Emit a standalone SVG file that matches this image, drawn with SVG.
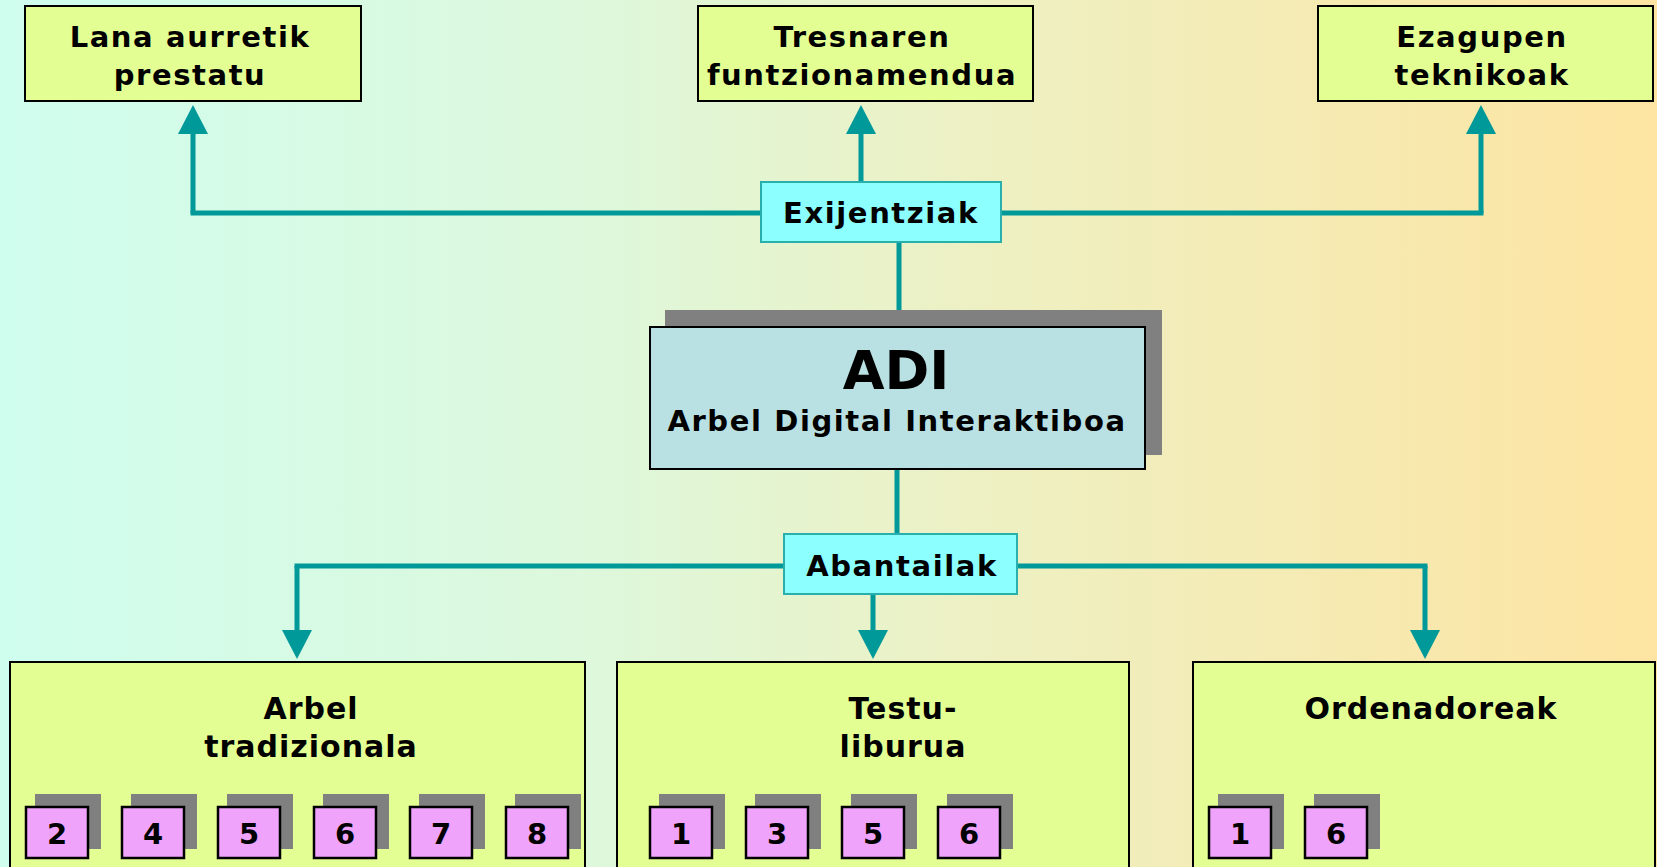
<svg xmlns="http://www.w3.org/2000/svg" width="1657" height="867" viewBox="0 0 1657 867">
<defs>
<linearGradient id="bg" x1="0" y1="0" x2="1" y2="0">
<stop offset="0" stop-color="#CFFDEE"/>
<stop offset="0.35" stop-color="#DDF8DC"/>
<stop offset="0.6" stop-color="#EEF0C2"/>
<stop offset="1" stop-color="#FDE4A2"/>
</linearGradient>
<marker id="ah" viewBox="0 -15 29 30" markerWidth="29" markerHeight="30" refX="1" refY="0" orient="auto" markerUnits="userSpaceOnUse">
<path d="M0,-15 L29,0 L0,15 Z" fill="#009999"/>
</marker>
<style>
.lbl{font-family:"DejaVu Sans","Verdana",sans-serif;font-weight:bold;fill:#000;text-anchor:middle}
.top{font-size:29px;letter-spacing:1.6px}
.cy{font-size:29px;letter-spacing:1.6px}
.bot{font-size:30px;letter-spacing:1px}
.num{font-size:29px}
.ybox{fill:#E3FE93;stroke:#000;stroke-width:2}
.cbox{fill:#8CFFFF;stroke:#2AAFAF;stroke-width:2}
.shadow{fill:#808080}
.sq{fill:#EFA3FB;stroke:#000;stroke-width:2.5}
.conn{fill:none;stroke:#009999;stroke-width:5}
</style>
</defs>
<rect x="0" y="0" width="1657" height="867" fill="url(#bg)"/>

<g id="connectors">
<path class="conn" d="M190.5,213 H1483.5"/>
<path class="conn" d="M193,213 V133" marker-end="url(#ah)"/>
<path class="conn" d="M861,182 V133" marker-end="url(#ah)"/>
<path class="conn" d="M1481,213 V133" marker-end="url(#ah)"/>
<path class="conn" d="M899,242 V326"/>
<path class="conn" d="M897,469 V533"/>
<path class="conn" d="M294.5,566 H1427.5"/>
<path class="conn" d="M297,566 V631" marker-end="url(#ah)"/>
<path class="conn" d="M873,594 V631" marker-end="url(#ah)"/>
<path class="conn" d="M1425,566 V631" marker-end="url(#ah)"/>
</g>

<g id="lana">
<rect class="ybox" x="25" y="6" width="336" height="95"/>
<text class="lbl top" x="190" y="47">Lana aurretik</text>
<text class="lbl top" x="190" y="85">prestatu</text>
</g>
<g id="tresnaren">
<rect class="ybox" x="698" y="6" width="335" height="95"/>
<text class="lbl top" x="862" y="47">Tresnaren</text>
<text class="lbl top" x="862" y="85">funtzionamendua</text>
</g>
<g id="ezagupen">
<rect class="ybox" x="1318" y="6" width="335" height="95"/>
<text class="lbl top" x="1482" y="47">Ezagupen</text>
<text class="lbl top" x="1482" y="85">teknikoak</text>
</g>

<g id="exijentziak">
<rect class="cbox" x="761" y="182" width="240" height="60"/>
<text class="lbl cy" x="881" y="223">Exijentziak</text>
</g>

<g id="adi">
<rect class="shadow" x="665" y="310" width="497" height="145"/>
<rect x="650" y="327" width="495" height="142" fill="#B9E0E2" stroke="#000" stroke-width="2"/>
<text class="lbl" x="896" y="389" font-size="54">ADI</text>
<text class="lbl" x="897" y="431" font-size="29" letter-spacing="1.6">Arbel Digital Interaktiboa</text>
</g>

<g id="abantailak">
<rect class="cbox" x="784" y="534" width="233" height="60"/>
<text class="lbl cy" x="902" y="576">Abantailak</text>
</g>

<g id="arbel">
<rect class="ybox" x="10" y="662" width="575" height="240"/>
<text class="lbl bot" x="311" y="719">Arbel</text>
<text class="lbl bot" x="311" y="757">tradizionala</text>
</g>
<g id="testu">
<rect class="ybox" x="617" y="662" width="512" height="240"/>
<text class="lbl bot" x="903" y="719">Testu-</text>
<text class="lbl bot" x="903" y="757">liburua</text>
</g>
<g id="ordenadoreak">
<rect class="ybox" x="1193" y="662" width="462" height="240"/>
<text class="lbl bot" x="1431" y="719">Ordenadoreak</text>
</g>

<g id="arbel-nums">
<g id="a2"><rect class="shadow" x="35" y="794" width="66" height="55"/><rect class="sq" x="26" y="807" width="62" height="51"/><text class="lbl num" x="57" y="844">2</text></g>
<g id="a4"><rect class="shadow" x="131" y="794" width="66" height="55"/><rect class="sq" x="122" y="807" width="62" height="51"/><text class="lbl num" x="153" y="844">4</text></g>
<g id="a5"><rect class="shadow" x="227" y="794" width="66" height="55"/><rect class="sq" x="218" y="807" width="62" height="51"/><text class="lbl num" x="249" y="844">5</text></g>
<g id="a6"><rect class="shadow" x="323" y="794" width="66" height="55"/><rect class="sq" x="314" y="807" width="62" height="51"/><text class="lbl num" x="345" y="844">6</text></g>
<g id="a7"><rect class="shadow" x="419" y="794" width="66" height="55"/><rect class="sq" x="410" y="807" width="62" height="51"/><text class="lbl num" x="441" y="844">7</text></g>
<g id="a8"><rect class="shadow" x="515" y="794" width="66" height="55"/><rect class="sq" x="506" y="807" width="62" height="51"/><text class="lbl num" x="537" y="844">8</text></g>
</g>
<g id="testu-nums">
<g id="t1"><rect class="shadow" x="659" y="794" width="66" height="55"/><rect class="sq" x="650" y="807" width="62" height="51"/><text class="lbl num" x="681" y="844">1</text></g>
<g id="t3"><rect class="shadow" x="755" y="794" width="66" height="55"/><rect class="sq" x="746" y="807" width="62" height="51"/><text class="lbl num" x="777" y="844">3</text></g>
<g id="t5"><rect class="shadow" x="851" y="794" width="66" height="55"/><rect class="sq" x="842" y="807" width="62" height="51"/><text class="lbl num" x="873" y="844">5</text></g>
<g id="t6"><rect class="shadow" x="947" y="794" width="66" height="55"/><rect class="sq" x="938" y="807" width="62" height="51"/><text class="lbl num" x="969" y="844">6</text></g>
</g>
<g id="orden-nums">
<g id="o1"><rect class="shadow" x="1218" y="794" width="66" height="55"/><rect class="sq" x="1209" y="807" width="62" height="51"/><text class="lbl num" x="1240" y="844">1</text></g>
<g id="o6"><rect class="shadow" x="1314" y="794" width="66" height="55"/><rect class="sq" x="1305" y="807" width="62" height="51"/><text class="lbl num" x="1336" y="844">6</text></g>
</g>
</svg>
